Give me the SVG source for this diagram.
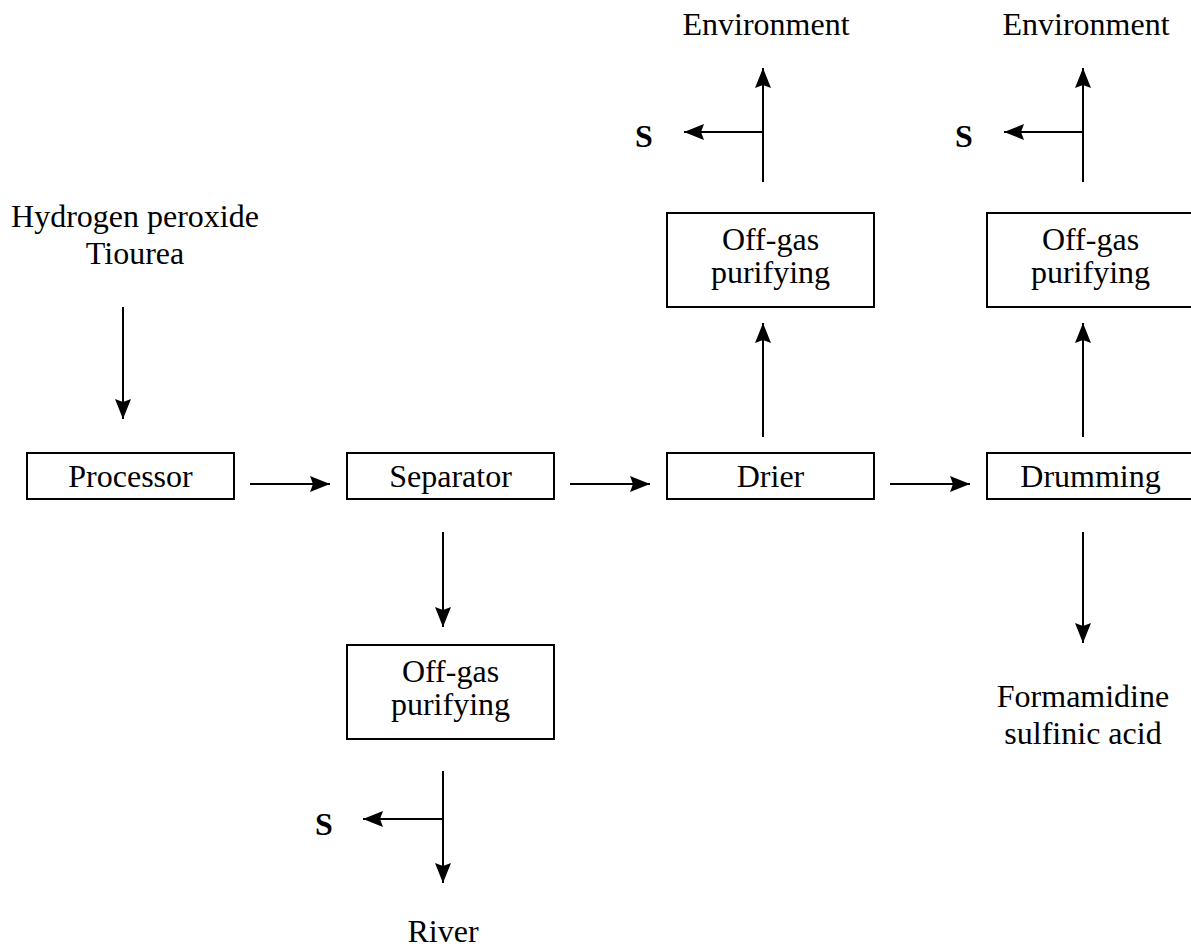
<svg xmlns="http://www.w3.org/2000/svg" width="1191" height="951" viewBox="0 0 1191 951">
<defs>
<style>
.box{fill:#fff;stroke:#000;stroke-width:2}
.t{font-family:"Liberation Serif","Times New Roman",serif;font-size:32px;fill:#000;text-anchor:middle}
.b{font-weight:bold}
.c{stroke:#000;stroke-width:2;fill:none}
</style>
<marker id="ah" viewBox="0 0 20 16" refX="20" refY="8" markerWidth="20" markerHeight="16" markerUnits="userSpaceOnUse" orient="auto">
<path d="M0,0 L20,8 L0,16 L3,8 Z" fill="#000"/>
</marker>
</defs>
<rect width="1191" height="951" fill="#fff"/>
<g id="processor"><rect class="box" x="27" y="453" width="207" height="46"/><text class="t" x="130.5" y="487">Processor</text></g>
<g id="separator"><rect class="box" x="347" y="453" width="207" height="46"/><text class="t" x="450.5" y="487">Separator</text></g>
<g id="drier"><rect class="box" x="667" y="453" width="207" height="46"/><text class="t" x="770.5" y="487">Drier</text></g>
<g id="drumming"><rect class="box" x="987" y="453" width="207" height="46"/><text class="t" x="1090.5" y="487">Drumming</text></g>
<g id="offgas1"><rect class="box" x="667" y="213" width="207" height="94"/><text class="t" x="770.5" y="250">Off-gas</text><text class="t" x="770.5" y="283">purifying</text></g>
<g id="offgas2"><rect class="box" x="987" y="213" width="207" height="94"/><text class="t" x="1090.5" y="250">Off-gas</text><text class="t" x="1090.5" y="283">purifying</text></g>
<g id="offgas3"><rect class="box" x="347" y="645" width="207" height="94"/><text class="t" x="450.5" y="682">Off-gas</text><text class="t" x="450.5" y="715">purifying</text></g>
<g id="input"><text class="t" x="135" y="227">Hydrogen peroxide</text><text class="t" x="135" y="264">Tiourea</text></g>
<g id="env1"><text class="t" x="766" y="35">Environment</text></g>
<g id="env2"><text class="t" x="1086" y="35">Environment</text></g>
<g id="s1"><text class="t b" x="644" y="147">S</text></g>
<g id="s2"><text class="t b" x="964" y="147">S</text></g>
<g id="s3"><text class="t b" x="324" y="835">S</text></g>
<g id="river"><text class="t" x="443" y="942">River</text></g>
<g id="product"><text class="t" x="1083" y="707">Formamidine</text><text class="t" x="1083" y="744">sulfinic acid</text></g>
<g id="connectors">
<line class="c" x1="123" y1="307" x2="123" y2="419" marker-end="url(#ah)"/>
<line class="c" x1="250" y1="484" x2="330" y2="484" marker-end="url(#ah)"/>
<line class="c" x1="570" y1="484" x2="650" y2="484" marker-end="url(#ah)"/>
<line class="c" x1="890" y1="484" x2="970" y2="484" marker-end="url(#ah)"/>
<line class="c" x1="763" y1="437" x2="763" y2="323" marker-end="url(#ah)"/>
<line class="c" x1="1083" y1="437" x2="1083" y2="323" marker-end="url(#ah)"/>
<line class="c" x1="763" y1="182" x2="763" y2="68" marker-end="url(#ah)"/>
<line class="c" x1="763" y1="132" x2="684" y2="132" marker-end="url(#ah)"/>
<line class="c" x1="1083" y1="182" x2="1083" y2="68" marker-end="url(#ah)"/>
<line class="c" x1="1083" y1="132" x2="1004" y2="132" marker-end="url(#ah)"/>
<line class="c" x1="443" y1="532" x2="443" y2="627" marker-end="url(#ah)"/>
<line class="c" x1="1083" y1="532" x2="1083" y2="643" marker-end="url(#ah)"/>
<line class="c" x1="443" y1="771" x2="443" y2="883" marker-end="url(#ah)"/>
<line class="c" x1="443" y1="819" x2="363" y2="819" marker-end="url(#ah)"/>
</g>
</svg>
